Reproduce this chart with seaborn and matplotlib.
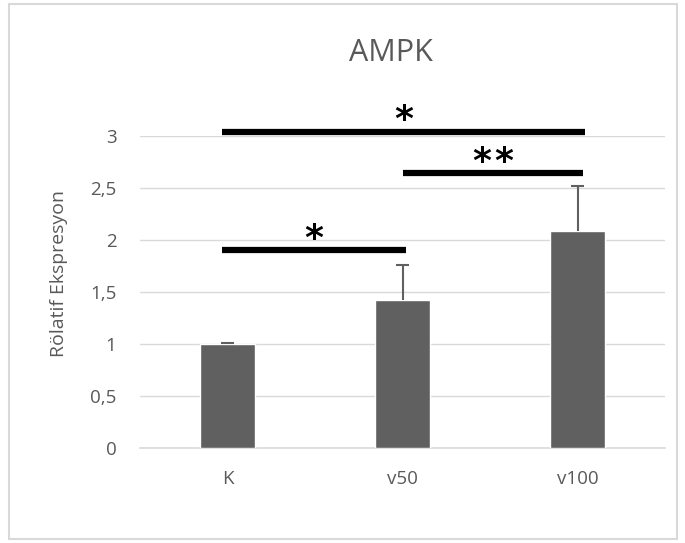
import matplotlib
matplotlib.use("Agg")
import matplotlib.pyplot as plt
import seaborn as sns
import pandas as pd
from matplotlib.patches import Rectangle
from matplotlib.ticker import FuncFormatter
from matplotlib.transforms import offset_copy

categories = ["K", "v50", "v100"]
values = [1.0, 1.42, 2.09]
errors = [0.01, 0.34, 0.43]
yticks = [0, 0.5, 1, 1.5, 2, 2.5, 3]
# significance brackets: (x_start, x_end, y, label)
sig_x0 = [-0.03, 1.0, -0.03]
sig_x1 = [2.04, 2.03, 1.02]
sig_y = [3.04, 2.64, 1.90]
sig_n = [1, 2, 1]

sns.set_theme(style="white")
plt.rcParams["font.family"] = ["Open Sans", "DejaVu Sans"]

TXT = "#595959"
BAR = "#606060"
GRID = "#d9d9d9"

fig = plt.figure(figsize=(6.85, 5.43), dpi=100)
ax = fig.add_axes([140 / 685, (543 - 448) / 543, 525 / 685, 312 / 543])

df = pd.DataFrame({"cat": categories, "val": values})
sns.barplot(data=df, x="cat", y="val", color=BAR, saturation=1, width=0.314,
            errorbar=None, ax=ax, zorder=3)
xs = list(range(len(categories)))
tops = [v + e for v, e in zip(values, errors)]
ax.vlines(xs, values, tops, color=BAR, linewidth=1.5, zorder=4)
for x, t in zip(xs, tops):
    ax.plot([x - 0.037, x + 0.037], [t, t], color=BAR, linewidth=1.5, zorder=4,
            solid_capstyle="butt")

ax.set_xlim(-0.5, 2.5)
ax.set_ylim(0, 3)
ax.set_yticks(yticks)
ax.yaxis.set_major_formatter(FuncFormatter(lambda v, p: (f"{v:g}").replace(".", ",")))
ax.grid(axis="y", color=GRID, linewidth=1, zorder=0)
ax.grid(axis="x", visible=False)
for s in ["top", "right", "left"]:
    ax.spines[s].set_visible(False)
ax.spines["bottom"].set_color(GRID)
ax.spines["bottom"].set_linewidth(1.2)
ax.tick_params(axis="both", length=0, labelsize=13.5, colors=TXT)
ax.tick_params(axis="y", pad=17)
ax.tick_params(axis="x", pad=16)
ax.set_xlabel("")
ax.set_ylabel("Rölatif Ekspresyon", fontsize=14, color=TXT)
ax.yaxis.set_label_coords(-0.137, 0.56)

for x0, x1, y, n in zip(sig_x0, sig_x1, sig_y, sig_n):
    ax.plot([x0, x1], [y, y], color="black", linewidth=4.5, solid_capstyle="butt",
            clip_on=False, zorder=5)
    cx = (x0 + x1) / 2
    offs = [0] if n == 1 else [-8, 8]
    for o in offs:
        tr = offset_copy(ax.transData, fig=fig, x=o, y=1, units="points")
        ax.text(cx, y, "*", transform=tr, ha="center", va="baseline",
                fontsize=26, fontweight="bold", color="black",
                family="DejaVu Sans", clip_on=False)

fig.text(391 / 685, 1 - 53 / 543, "AMPK", ha="center", va="center",
         fontsize=22, color=TXT)

fig.patches.append(Rectangle((9 / 685, 4 / 543), 668 / 685, 535 / 543,
                             transform=fig.transFigure, fill=False,
                             edgecolor=GRID, linewidth=1.5))

fig.savefig("out.png", dpi=100)
